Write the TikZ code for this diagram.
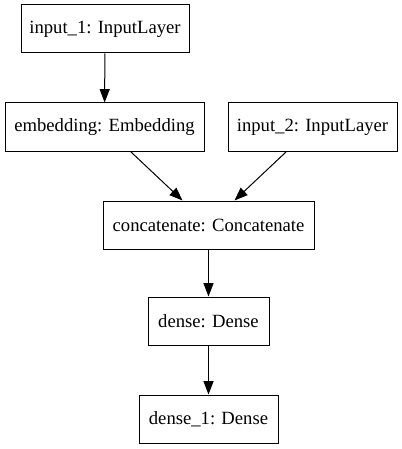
\documentclass[tikz,border=0pt]{standalone}
\usepackage{fontspec}
\setmainfont{Liberation Serif}
\newfontfamily\layerfont{Liberation Serif}
\usetikzlibrary{arrows.meta}

\begin{document}
\begin{tikzpicture}[
    x=0.75pt, y=-0.75pt,
    layer/.style={draw, rectangle, line width=0.75pt, minimum height=36pt, inner xsep=0pt},
    >={Triangle[length=10pt, width=7.5pt]},
    font=\layerfont\fontsize{14pt}{16pt}\selectfont
]
    \useasboundingbox (0,0) rectangle (402,449);

    % layers
    \node[layer, minimum width=126pt]    (in1)    at (105, 29)    {input\_1: InputLayer};
    \node[layer, minimum width=149.25pt] (emb)    at (104.5, 127) {embedding: Embedding};
    \node[layer, minimum width=126.75pt] (in2)    at (312.5, 127) {input\_2: InputLayer};
    \node[layer, minimum width=158.25pt] (concat) at (208.5, 225) {concatenate: Concatenate};
    \node[layer, minimum width=90.75pt]  (dense)  at (208.5, 321) {dense: Dense};
    \node[layer, minimum width=104.25pt] (dense1) at (208.5, 419) {dense\_1: Dense};

    % connections
    \draw[->, line width=0.75pt] (in1) -- (emb);
    \draw[->, line width=0.75pt] (emb) -- (concat);
    \draw[->, line width=0.75pt] (in2) -- (concat);
    \draw[->, line width=0.75pt] (concat) -- (dense);
    \draw[->, line width=0.75pt] (dense) -- (dense1);

\end{tikzpicture}
\end{document}
